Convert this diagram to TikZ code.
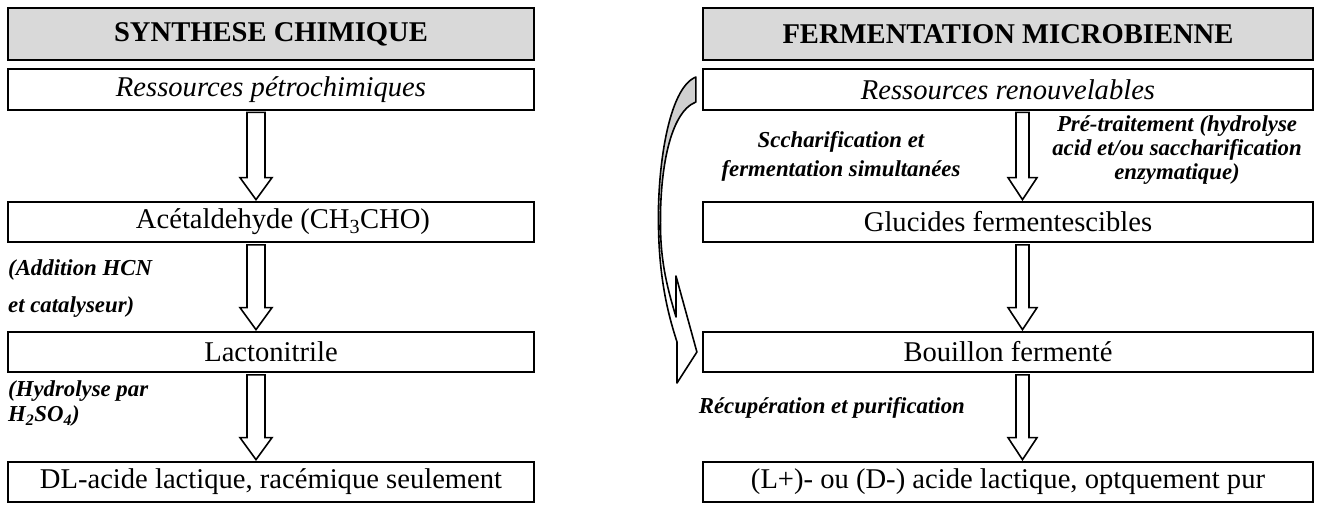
\documentclass[tikz,border=0pt]{standalone}
\usepackage{fontspec}
\setmainfont{Liberation Serif}
\usetikzlibrary{calc}
\definecolor{hdr}{HTML}{D9D9D9}
\definecolor{carrow}{HTML}{D0D0D0}
\tikzset{
 box/.style={draw, line width=2.2pt, inner sep=0pt, font=\fontsize{28.6}{30}\selectfont},
 lbox/.style={box, minimum width=526pt},
 rbox/.style={box, minimum width=610pt},
 hdrbox/.style={fill=hdr, minimum height=52pt, font=\fontsize{28.6}{30}\selectfont\bfseries},
 rowbox/.style={minimum height=40.5pt},
 arrline/.style={draw, line width=1.6pt, fill=white, line join=miter},
 curvline/.style={draw, line width=1.6pt, line join=round},
 lbl/.style={font=\fontsize{22.8}{25}\selectfont\bfseries\itshape, inner sep=0pt},
}
\newcommand\blockarr[5]{%
  \draw[arrline] let \p1=(#1.south), \p2=(#2.north) in
   (#3pt-#4pt,\y1-1.5pt) -- (#3pt-#4pt,\y2+23pt) -- (#3pt-#5pt,\y2+23pt)
   -- (#3pt,\y2+1pt) -- (#3pt+#5pt,\y2+23pt) -- (#3pt+#4pt,\y2+23pt)
   -- (#3pt+#4pt,\y1-1.5pt) -- cycle;}
\begin{document}
\begin{tikzpicture}[x=1pt,y=-1pt]
\useasboundingbox (0,0) rectangle (1322,504);
% headers
\node[lbox,hdrbox] (lh) at (271,34) {SYNTHESE CHIMIQUE};
\node[rbox,hdrbox] (rh) at (1008,34) {FERMENTATION MICROBIENNE};
% left column
\node[lbox,rowbox] (l1) at (271,89.5) {\itshape Ressources pétrochimiques};
\node[lbox,rowbox] (l2) at (271,222) {\hspace*{24pt}Acétaldehyde (CH\textsubscript{3}CHO)};
\node[lbox,rowbox] (l3) at (271,352) {Lactonitrile};
\node[lbox,rowbox] (l4) at (271,482) {DL-acide lactique, racémique seulement};
% right column
\node[rbox,rowbox] (r1) at (1008,89.5) {\itshape Ressources renouvelables};
\node[rbox,rowbox] (r2) at (1008,222) {Glucides fermentescibles};
\node[rbox,rowbox] (r3) at (1008,352) {Bouillon fermenté};
\node[rbox,rowbox] (r4) at (1008,482) {(L+)- ou (D-) acide lactique, optquement pur};
% block arrows
\blockarr{l1}{l2}{256}{9}{16}
\blockarr{l2}{l3}{256}{9}{16}
\blockarr{l3}{l4}{256}{9}{16}
\blockarr{r1}{r2}{1022.5}{6.5}{14.5}
\blockarr{r2}{r3}{1022.5}{6.5}{14.5}
\blockarr{r3}{r4}{1022.5}{6.5}{14.5}
% labels
\node[lbl, anchor=west, align=left] (t1) at (8,289) {(Addition HCN\\[12pt]et catalyseur)};
\node[lbl, anchor=west, align=left] (t2) at (8,404) {(Hydrolyse par\\H\textsubscript{2}SO\textsubscript{4})};
\node[lbl, align=center] (t3) at (841,156.5) {Sccharification et\\[4pt]fermentation simultanées};
\node[lbl, align=center] (t4) at (1177,150) {Pré-traitement (hydrolyse\\[-1pt]acid et/ou saccharification\\[-1pt]enzymatique)};
\node[lbl, anchor=east] (t5) at (965,408) {Récupération et purification};
% curved arrow from r1 to r3
\coordinate (ca) at ($(r1.west)+(-6,-12.5)$);
\coordinate (cb) at ($(r1.west)+(-6,12.5)$);
\coordinate (tip) at ($(r3.west)+(-5,0)$);
\fill[carrow] (ca) .. controls (668,88) and (657,170) .. (658.5,228)
  .. controls (659.5,170) and (670,112) .. (cb) -- cycle;
\draw[curvline] (ca) .. controls (668,88) and (657,170) .. (658.5,228)
  .. controls (659.5,285) and (670,320) .. (677,342)
  -- (677,383) -- (tip) -- (676,276) -- (676,317)
  .. controls (668,290) and (661,265) .. (660.5,228)
  .. controls (659.5,170) and (670,112) .. (cb) -- cycle;
\end{tikzpicture}
\end{document}
